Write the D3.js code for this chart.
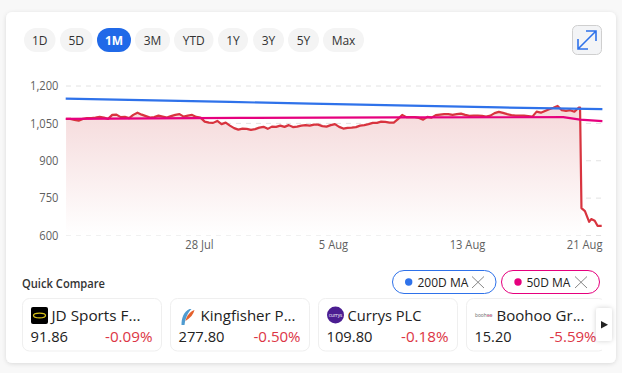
<!DOCTYPE html>
<html>
<head>
<meta charset="utf-8">
<script src="https://cdn.jsdelivr.net/npm/d3@7/dist/d3.min.js"></script>
<style>
html,body{margin:0;padding:0;background:#f8f8f8;}
svg{display:block;}
text{font-family:"Open Sans","Noto Sans",sans-serif;}
</style>
</head>
<body>
<svg id="chart" width="622" height="373"></svg>
<script>
// ---------- data ----------
const rangeLabels = ["1D","5D","1M","3M","YTD","1Y","3Y","5Y","Max"];
const activeRange = "1M";
const yTickValues = [600,750,900,1050,1200];
const xTickDates = ["2024-07-28","2024-08-05","2024-08-13","2024-08-21"];
// price sampled evenly from the first hour, every sampleStepHours
const priceEven = [1068,1068,1064,1061,1068,1071,1071,1073,1076,1073,1068,1084,1085,1075,1076,1071,1084,1093,1085,1079,1073,1075,1081,1077,1073,1079,1084,1087,1077,1081,1084,1076,1073,1057,1053,1052,1060,1047,1053,1041,1031,1025,
1029,1028,1024,1027,1033,1036,1028,1037,1036,1041,1036,1043,1035,1037,1041,1043,1041,1045,1045,1039,1037,1043,1047,1036,1029,1032,1033,1035,1041,1043,1047,1052,1052,1057,1056,1053,1053,1067,1084,
1075,1075,1075,1072,1065,1076,1073,1083,1085,1087,1087,1084,1087,1089,1084,1080,1081,1081,1080,1077,1081,1091,1096,1092,1087,1083,1081,1081,1081,1079,1077,1097,1093,1100,1107,1113,1120,1103,1100,1103,1097,1113];
// final session: the sharp fall, with its own times
const priceTailHours = [738,740,745,751,754,759,763,769];
const priceTail = [1113,710,698,655,666,659,639,639];
const ma200Hours = [1,236,352,494,623,770];
const ma200 = [1149,1136,1129,1121,1114,1107];
const ma50Hours = [1,250,480,714,738,770];
const ma50 = [1068,1072,1074,1075,1065,1059];
const maLabels = ["200D MA","50D MA"];
const compareNames = ["JD Sports F...","Kingfisher P...","Currys PLC","Boohoo Gr..."];
const comparePrices = ["91.86","277.80","109.80","15.20"];
const compareChanges = ["-0.09%","-0.50%","-0.18%","-5.59%"];

// ---------- style / layout ----------
const RED="#d8343f", BLUE="#2f72ea", PINK="#e6007e";
const sampleStepHours = 6.02, firstHour = 1.5;
const startTime = Date.UTC(2024,6,20);
const hourDate = h => new Date(startTime + h*3600e3);
// the reference face runs a little narrower than the installed one
const fitTo = (sel, widthOf) => sel.attr("lengthAdjust","spacingAndGlyphs").attr("textLength",widthOf);
const squeeze = (sel, ratio) => sel.each(function(){
  d3.select(this).attr("lengthAdjust","spacingAndGlyphs").attr("textLength",this.getComputedTextLength()*ratio);
});

const svg = d3.select("#chart");
const defs = svg.append("defs");
const grad = defs.append("linearGradient").attr("id","fade").attr("x1",0).attr("x2",0).attr("y1",0).attr("y2",1);
grad.append("stop").attr("offset","0%").attr("stop-color","#f5d9da");
grad.append("stop").attr("offset","100%").attr("stop-color","#ffffff");
const blur = defs.append("filter").attr("id","sh").attr("x","-5%").attr("y","-5%").attr("width","110%").attr("height","110%");
blur.append("feDropShadow").attr("dx",0).attr("dy",1).attr("stdDeviation",2).attr("flood-color","#000").attr("flood-opacity",0.12);
const blur2 = defs.append("filter").attr("id","sh2").attr("x","-40%").attr("y","-20%").attr("width","180%").attr("height","140%");
blur2.append("feDropShadow").attr("dx",0).attr("dy",0).attr("stdDeviation",2.5).attr("flood-color","#000").attr("flood-opacity",0.18);
defs.append("clipPath").attr("id","cardsClip").append("rect").attr("x",14).attr("y",290).attr("width",588).attr("height",70);

// card
svg.append("rect").attr("x",6).attr("y",12).attr("width",610).attr("height",351).attr("rx",6)
  .attr("fill","#fff").attr("filter","url(#sh)");

// range buttons
const rangeX = [24,60,97,135,174,218,253,288,323];
const rangeW = [31.5,32.5,34,35,39.5,30,31,31,41];
const rb = svg.append("g").selectAll("g").data(rangeLabels).join("g");
rb.append("rect").attr("x",(d,i)=>rangeX[i]).attr("y",28).attr("width",(d,i)=>rangeW[i]).attr("height",24).attr("rx",12)
  .attr("fill",d=>d===activeRange?"#2069e8":"#f4f4f4");
rb.append("text").attr("x",(d,i)=>rangeX[i]+rangeW[i]/2).attr("y",44.5).attr("text-anchor","middle").attr("font-size",12)
  .attr("font-weight",d=>d===activeRange?700:400).attr("fill",d=>d===activeRange?"#fff":"#333").text(d=>d);

// expand button
svg.append("rect").attr("x",572.5).attr("y",25.5).attr("width",29).attr("height",29).attr("rx",5)
  .attr("fill","#f3f4f6").attr("stroke","#cfcfcf");
svg.append("path").attr("d","M578 49L596 31M586 31H596V41M578 39V49H588").attr("fill","none").attr("stroke",BLUE).attr("stroke-width",1.6);

// scales
const x = d3.scaleUtc().domain([new Date(startTime),new Date(Date.UTC(2024,7,21))]).range([65,601]);
const y = d3.scaleLinear().domain([600,1200]).range([235.5,86]);

const pricePoints = priceEven.map((v,i)=>({t:hourDate(firstHour+i*sampleStepHours),v}))
  .concat(priceTail.map((v,i)=>({t:hourDate(priceTailHours[i]),v})));
const toPts = (hs,vs)=>vs.map((v,i)=>({t:hourDate(hs[i]),v}));

// axes + grid
const yAxis = d3.axisLeft(y).tickValues(yTickValues).tickFormat(d3.format(",")).tickSize(0).tickPadding(0);
const ya = svg.append("g").attr("transform","translate(58.5,0)").call(yAxis);
ya.select(".domain").remove();
ya.selectAll("text").attr("font-size",12).attr("fill","#5f5f5f").style("font-family",'"Open Sans",sans-serif').call(squeeze,0.93);

const xDates = xTickDates.map(d=>new Date(d+"T00:00:00Z"));
const xAxis = d3.axisBottom(x).tickValues(xDates).tickFormat(d3.utcFormat("%-d %b")).tickSize(0).tickPadding(0);
const xa = svg.append("g").attr("transform","translate(0,240)").call(xAxis);
xa.select(".domain").remove();
xa.selectAll("text").attr("font-size",12).attr("fill","#5f5f5f").style("font-family",'"Open Sans",sans-serif')
  .attr("text-anchor",(d,i)=>i===xDates.length-1?"end":"middle")
  .attr("dx",(d,i)=>i===xDates.length-1?1:0).call(squeeze,0.93);

svg.append("g").selectAll("line").data(yTickValues).join("line")
  .attr("x1",66).attr("x2",602).attr("y1",d=>y(d)).attr("y2",d=>y(d))
  .attr("stroke","#e2e2e2").attr("stroke-dasharray","5 5");

// area and lines
const area = d3.area().x(d=>x(d.t)).y0(y(600)).y1(d=>y(d.v));
const line = d3.line().x(d=>x(d.t)).y(d=>y(d.v));
const areaPts = pricePoints.slice(0,priceEven.length+2);
svg.append("path").datum(areaPts).attr("d",area).attr("fill","url(#fade)");
svg.append("path").datum(pricePoints).attr("d",line).attr("fill","none").attr("stroke",RED).attr("stroke-width",2.2).attr("stroke-linejoin","round");
svg.append("path").datum(toPts(ma200Hours,ma200)).attr("d",line).attr("fill","none").attr("stroke",BLUE).attr("stroke-width",2.2);
svg.append("path").datum(toPts(ma50Hours,ma50)).attr("d",line).attr("fill","none").attr("stroke",PINK).attr("stroke-width",2.2);

// Quick compare title
svg.append("text").attr("x",22).attr("y",287.5).attr("font-size",12).attr("font-weight",600).attr("fill","#333").text("Quick Compare").call(fitTo,83);

// MA pills
const pillX=[392.5,501.5], pillW=[103.5,98], pillColor=[BLUE,PINK], dotX=[408.7,518], textX=[417.5,526.5], crossX=[472,575];
const pills = svg.append("g").selectAll("g").data(maLabels).join("g");
pills.append("rect").attr("x",(d,i)=>pillX[i]).attr("y",270.5).attr("width",(d,i)=>pillW[i]).attr("height",23).attr("rx",11.5)
  .attr("fill","#fff").attr("stroke",(d,i)=>pillColor[i]);
pills.append("circle").attr("cx",(d,i)=>dotX[i]).attr("cy",282).attr("r",3.7).attr("fill",(d,i)=>pillColor[i]);
pills.append("text").attr("x",(d,i)=>textX[i]).attr("y",286.5).attr("font-size",12).attr("font-weight",500).attr("fill","#222").text(d=>d);
pills.append("path").attr("d",(d,i)=>`M${crossX[i]} 276.5L${crossX[i]+12} 288M${crossX[i]+12} 276.5L${crossX[i]} 288`)
  .attr("stroke","#888").attr("stroke-width",1).attr("fill","none");

// compare cards
const cardX=[22.5,170.5,318.5,466.5];
const nameOffset=[29,30,29,30];
const nameW=[89,95,74,88], priceW=[37.5,46,46,37], changeW=[47.5,47,47.5,47];
const cg = svg.append("g").attr("clip-path","url(#cardsClip)");
const cards = cg.selectAll("g").data(compareNames).join("g").attr("transform",(d,i)=>`translate(${cardX[i]},0)`);
cards.append("rect").attr("y",298.5).attr("width",139).attr("height",52.5).attr("rx",7).attr("fill","#fff").attr("stroke","#efefef");
cards.append("text").attr("x",(d,i)=>nameOffset[i]).attr("y",321).attr("font-size",15.2).attr("fill","#222").text(d=>d).call(fitTo,(d,i)=>nameW[i]);
cards.append("text").attr("x",8).attr("y",341.7).attr("font-size",15.2).attr("fill","#222").text((d,i)=>comparePrices[i]).call(fitTo,(d,i)=>priceW[i]);
cards.append("text").attr("x",130).attr("y",341.7).attr("text-anchor","end").attr("font-size",15.2).attr("fill","#dc3545").text((d,i)=>compareChanges[i]).call(fitTo,(d,i)=>changeW[i]);

// logos
const jd = cards.filter((d,i)=>i===0);
jd.append("rect").attr("x",8.5).attr("y",307).attr("width",17).attr("height",17).attr("rx",2).attr("fill","#000");
jd.append("ellipse").attr("cx",17).attr("cy",315.5).attr("rx",6).attr("ry",2.4).attr("fill","none").attr("stroke","#d8c21a").attr("stroke-width",1.3);
const kf = cards.filter((d,i)=>i===1);
kf.append("path").attr("d","M11 325C11 318 13 312 19 309L21 309C17 313 15 318 14 325Z").attr("fill","#4f9bd0");
kf.append("path").attr("d","M15 321C16 316 19 312 24 310C23 314 20 318 15 321Z").attr("fill","#e4602c");
const cu = cards.filter((d,i)=>i===2);
cu.append("circle").attr("cx",17).attr("cy",315).attr("r",8.5).attr("fill","#4b1d91");
cu.append("text").attr("x",17).attr("y",316.5).attr("text-anchor","middle").attr("font-size",4.6).attr("fill","#fff").text("currys");
const bo = cards.filter((d,i)=>i===3);
bo.append("text").attr("x",8.5).attr("y",316.5).attr("font-size",4.8).attr("fill","#666").text("boohoo");
bo.append("rect").attr("x",20.5).attr("y",315).attr("width",5).attr("height",1.2).attr("fill","#e88ab0");

// scroll arrow
svg.append("rect").attr("x",596).attr("y",308).attr("width",16).attr("height",33).attr("rx",3).attr("fill","#fff").attr("filter","url(#sh2)");
svg.append("path").attr("d","M601 321L608 324.7L601 328.4Z").attr("fill","#222");
</script>
</body>
</html>
